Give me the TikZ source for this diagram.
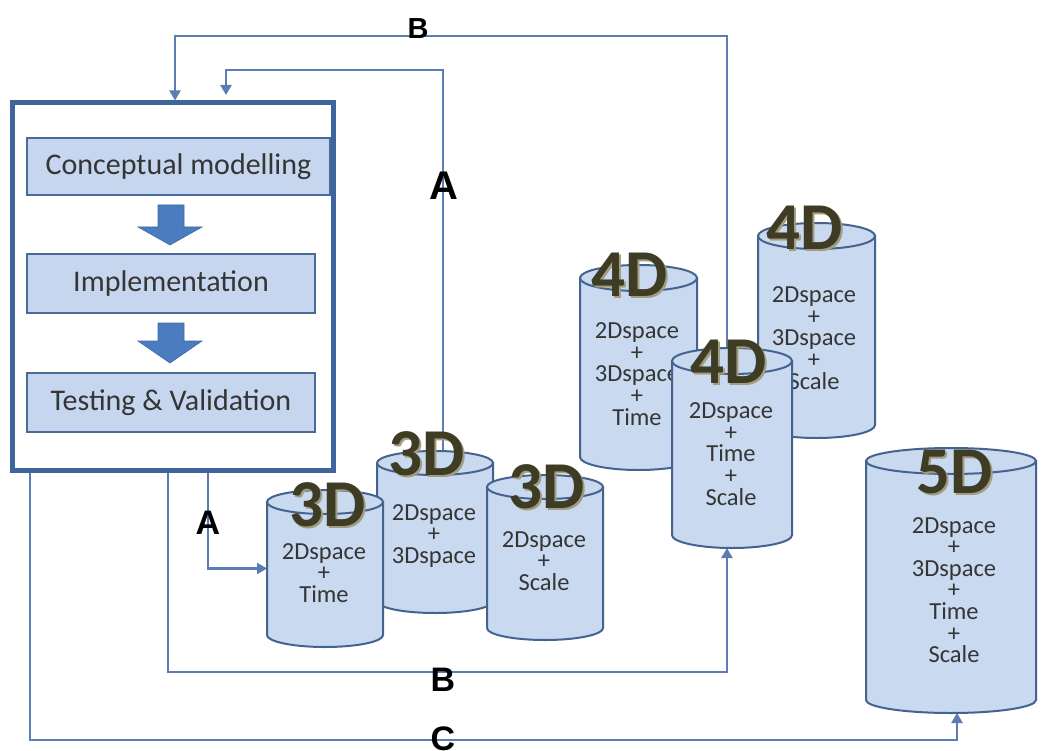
\documentclass[tikz,border=0pt]{standalone}
\usepackage{fontspec}
\setmainfont{Carlito}
\newfontfamily\lblfont{Liberation Sans}
\usetikzlibrary{arrows.meta,backgrounds}
\definecolor{conn}{HTML}{5B7DB3}
\definecolor{frameblue}{HTML}{40649E}
\definecolor{boxfill}{HTML}{C6D6EE}
\definecolor{boxline}{HTML}{4A6A9A}
\definecolor{cylfill}{HTML}{C9D9EF}
\definecolor{cylline}{HTML}{45638F}
\definecolor{blockarrow}{HTML}{4A7CBF}
\definecolor{dimtext}{HTML}{3F3C25}
\definecolor{dimshadow}{HTML}{A19D7E}
\definecolor{txt}{HTML}{353535}

\newcommand{\cyl}[6]{% name, x1, x2, ytop, ybot, ry
  \pgfmathsetmacro{\cylcx}{(#2+#3)/2}
  \pgfmathsetmacro{\cylrx}{(#3-#2)/2}
  \pgfmathsetmacro{\cylkx}{0.5523*\cylrx}
  \pgfmathsetmacro{\cylky}{0.5523*#6}
  \filldraw[cylshape] (#2,#4) -- (#2,#5)
    .. controls (#2,{#5+\cylky}) and ({\cylcx-\cylkx},{#5+#6}) .. (\cylcx,{#5+#6})
    .. controls ({\cylcx+\cylkx},{#5+#6}) and (#3,{#5+\cylky}) .. (#3,#5)
    -- (#3,#4) -- cycle;
  \filldraw[cylshape] (\cylcx,#4) ellipse ({\cylrx} and {#6});
  \coordinate (#1-top) at (\cylcx,{#4-#6});
  \coordinate (#1-bot) at (\cylcx,{#5+#6});
  \coordinate (#1-west) at (#2,{(#4+#5)/2});
}
\newcommand{\dimlabel}[3]{%
  \node[dimshd] (#1s) at ([shift={(2,2)}]#2) {#3};
  \node[dimlbl] (#1) at (#2) {#3};
}

\begin{document}
\begin{tikzpicture}[x=1pt,y=-1pt,
  stage/.style={draw=boxline, fill=boxfill, line width=2pt, inner sep=0pt,
    text=txt, font=\fontsize{30}{32}\selectfont},
  cylshape/.style={draw=cylline, fill=cylfill, line width=2pt},
  cyltext/.style={text=txt, align=center, inner sep=0pt,
    font=\fontsize{24.5}{21.6}\selectfont},
  dimlbl/.style={text=dimtext, inner sep=0pt, font=\fontsize{67}{67}\selectfont\bfseries},
  dimshd/.style={text=dimshadow, inner sep=0pt, font=\fontsize{67}{67}\selectfont\bfseries},
  conn/.style={draw=conn, line width=2.4pt},
  tip/.style={-{Triangle[length=10pt,width=11pt]}},
  letter/.style={inner sep=0pt, text=black, font=\lblfont\bfseries\fontsize{34}{34}\selectfont}
]
\useasboundingbox (0,0) rectangle (1041,751);
\begin{pgfonlayer}{background}
  \fill[white] (0,0) rectangle (1041,751);
\end{pgfonlayer}

% process frame
\node[draw=frameblue, fill=white, line width=5pt, minimum width=321pt,
  minimum height=367pt, inner sep=0pt] (frame) at (172.5,286.5) {};
\node[stage, minimum width=303pt, minimum height=57pt] (s1) at (178.5,166.5) {Conceptual modelling};
\node[stage, minimum width=288pt, minimum height=59pt] (s2) at (171,283.5) {Implementation};
\node[stage, minimum width=288pt, minimum height=59pt] (s3) at (171,402.5) {Testing \& Validation};
\filldraw[fill=blockarrow, draw=blockarrow!85!black, line width=0.6pt]
  (158,205) -- (184,205) -- (184,227) -- (202,227) -- (170,245) -- (138,227) -- (158,227) -- cycle;
\filldraw[fill=blockarrow, draw=blockarrow!85!black, line width=0.6pt]
  (158,323) -- (184,323) -- (184,341) -- (202,341) -- (170,363) -- (138,341) -- (158,341) -- cycle;

% 3D cylinders
\cyl{c3b}{377}{493}{463}{601}{12}
\node[cyltext] (t3b) at (434,536) {2Dspace\\+\\3Dspace};
\dimlabel{d3b}{427,454}{3D}
\cyl{c3a}{267}{383}{502}{635}{12}
\node[cyltext] (t3a) at (324,573) {2Dspace\\+\\Time};
\dimlabel{d3a}{328,505}{3D}
\cyl{c3c}{487}{603}{487}{628}{12}
\node[cyltext] (t3c) at (544,561) {2Dspace\\+\\Scale};
\dimlabel{d3c}{547,487}{3D}

% 4D cylinders
\cyl{c4a}{580}{697}{278}{457}{13}
\node[cyltext] (t4a) at (637,374) {2Dspace\\+\\3Dspace\\+\\Time};
\dimlabel{d4a}{630,275}{4D}
\cyl{c4c}{758}{875}{236}{425}{13}
\node[cyltext] (t4c) at (814,338) {2Dspace\\+\\3Dspace\\+\\Scale};
\dimlabel{d4c}{805,228}{4D}
\cyl{c4b}{672}{792}{361}{535}{13}
\node[cyltext] (t4b) at (731,454) {2Dspace\\+\\Time\\+\\Scale};
\dimlabel{d4b}{729,362}{4D}

% 5D cylinder
\cyl{c5}{866}{1036}{461}{700}{13}
\node[cyltext] (t5) at (954,590) {2Dspace\\+\\3Dspace\\+\\Time\\+\\Scale};
\dimlabel{d5}{955,472}{5D}

% connectors
\begin{pgfonlayer}{background}
  \draw[conn,tip] ([xshift=-5pt]c4b-top) |- (175,36) -- (175,0 |- frame.north);
  \draw[conn,tip] ([xshift=8pt]c3b-top) |- (226,70) -- (226,95);
  \draw[conn,tip] (208,0 |- frame.south) |- (c3a-west);
  \draw[conn,tip] (168,0 |- frame.south) -- (168,672) -| ([xshift=-5pt]c4b-bot);
  \draw[conn,tip] (30,0 |- frame.south) -- (30,740) -| ([xshift=6pt]c5-bot);
\end{pgfonlayer}

% letters
\node[letter, font=\lblfont\bfseries\fontsize{29}{29}\selectfont] (lB1) at (418,29) {B};
\node[letter, font=\lblfont\bfseries\fontsize{40}{40}\selectfont] (lA1) at (444,186) {A};
\node[letter] (lA2) at (208,523) {A};
\node[letter] (lB2) at (443,680) {B};
\node[letter] (lC) at (443,739) {C};
\end{tikzpicture}
\end{document}
